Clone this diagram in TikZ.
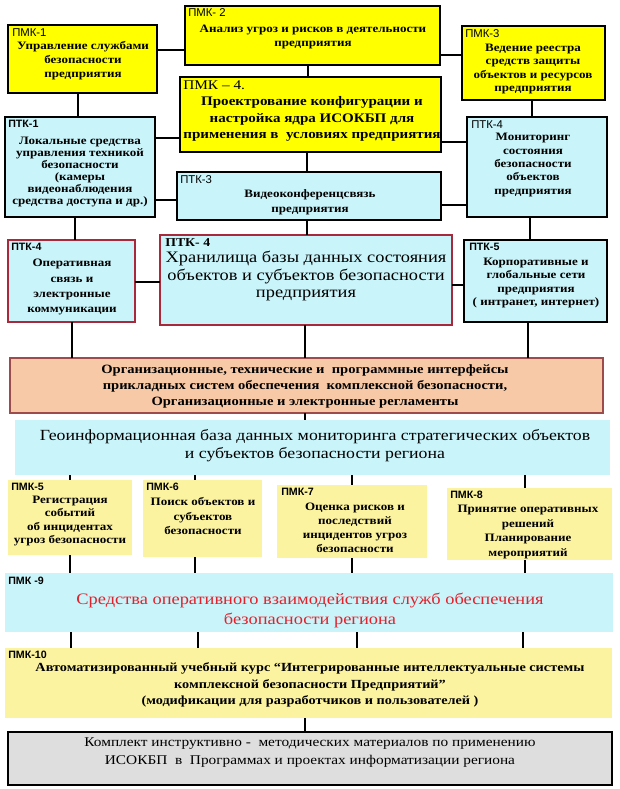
\documentclass[tikz,border=0pt]{standalone}
\usepackage{fontspec}
\setmainfont{Liberation Serif}
\setsansfont{Liberation Sans}
\newfontfamily\sr[FakeStretch=1.15]{Liberation Serif}
\usetikzlibrary{fit,calc}
\definecolor{yel}{HTML}{FFFF00}
\definecolor{cyn}{HTML}{C8F4FA}
\definecolor{pyel}{HTML}{FCF3A0}
\definecolor{org}{HTML}{F8C9A6}
\definecolor{orgb}{HTML}{9E4B4B}
\definecolor{redb}{HTML}{A8283C}
\definecolor{redt}{HTML}{E4202A}
\definecolor{gry}{HTML}{DEDEDE}
\begin{document}
\begin{tikzpicture}[x=0.75pt,y=-0.75pt,
  bx/.style={inner sep=0pt, outer sep=0pt},
  kb/.style={draw=black, line width=1.5pt},
  rb/.style={draw=redb, line width=1.3pt},
  lbl/.style={anchor=north west, inner sep=0pt, font=\sffamily\fontsize{8.5}{9}\selectfont},
  lbb/.style={lbl, font=\sffamily\bfseries\fontsize{8}{9}\selectfont},
  tx/.style={align=center, inner sep=0pt, font=\sr\bfseries\fontsize{8.5}{#1}\selectfont},
  tx/.default=10,
  ln/.style={line width=0.8pt, black}]
\useasboundingbox (0,0) rectangle (620,789);
\fill[white] (0,0) rectangle (620,789);
% boxes
\node[bx, kb, fill=yel, fit={(8,25)(157,93)}] (p1) {};
\node[bx, kb, fill=yel, fit={(185,6)(440,65)}] (p2) {};
\node[bx, kb, fill=yel, fit={(462,26)(605,100)}] (p3) {};
\node[bx, kb, fill=yel, fit={(180,77)(441,152)}] (p4) {};
\node[bx, kb, fill=cyn, fit={(5,117)(155,217)}] (t1) {};
\node[bx, kb, fill=cyn, fit={(177,172)(441,220)}] (t3) {};
\node[bx, kb, fill=cyn, fit={(467,117)(607,217)}] (t4r) {};
\node[bx, rb, fill=cyn, fit={(8,240)(135,322)}] (t4l) {};
\node[bx, rb, fill=cyn, fit={(160,235)(452,325)}] (th) {};
\node[bx, draw=black, line width=2pt, fill=cyn, fit={(464,240)(607,322)}] (t5) {};
\node[bx, draw=orgb, line width=1.2pt, fill=org, fit={(10,358)(603,413)}] (og) {};
\node[bx, fill=cyn, fit={(15,420)(610,475)}] (geo) {};
\node[bx, fill=pyel, fit={(8,480)(132,555)}] (m5) {};
\node[bx, fill=pyel, fit={(143,480)(262,557)}] (m6) {};
\node[bx, fill=pyel, fit={(277,485)(427,558)}] (m7) {};
\node[bx, fill=pyel, fit={(447,488)(612,560)}] (m8) {};
\node[bx, fill=cyn, fit={(5,573)(613,632)}] (m9) {};
\node[bx, fill=pyel, fit={(5,648)(612,718)}] (m10) {};
\node[bx, draw=black, line width=1.8pt, fill=gry, fit={(8,732)(612,785)}] (bot) {};
% connectors
\draw[ln] (p1.east |- 0,50) -- (p2.west |- 0,50);
\draw[ln] (p2.east |- 0,55) -- (p3.west |- 0,55);
\draw[ln] (p2.south -| 308,0) -- (p4.north -| 308,0);
\draw[ln] (p1.south -| 78,0) -- (t1.north -| 78,0);
\draw[ln] (p3.south -| 532,0) -- (t4r.north -| 532,0);
\draw[ln] (t1.east |- 0,138) -- (p4.west |- 0,138);
\draw[ln] (p4.east |- 0,142) -- (t4r.west |- 0,142);
\draw[ln] (p4.south -| 307,0) -- (t3.north -| 307,0);
\draw[ln] (t1.east |- 0,200) -- (t3.west |- 0,200);
\draw[ln] (t3.east |- 0,205) -- (t4r.west |- 0,205);
\draw[ln] (t3.south -| 307,0) -- (th.north -| 307,0);
\draw[ln] (t1.south -| 75,0) -- (t4l.north -| 75,0);
\draw[ln] (t4r.south -| 530,0) -- (t5.north -| 530,0);
\draw[ln] (t4l.east |- 0,282) -- (th.west |- 0,282);
\draw[ln] (th.east |- 0,285) -- (t5.west |- 0,285);
\draw[ln] (t4l.south -| 72,0) -- (og.north -| 72,0);
\draw[ln] (th.south -| 305,0) -- (og.north -| 305,0);
\draw[ln] (t5.south -| 528,0) -- (og.north -| 528,0);
\draw[ln] (og.south -| 305,0) -- (geo.north -| 305,0);
\foreach \n/\x in {m5/70, m6/195, m7/352, m8/525}{
  \draw[ln] (geo.south -| \x,0) -- (\n.north -| \x,0);
  \draw[ln] (\n.south -| \x,0) -- (m9.north -| \x,0);
}
\foreach \x in {71,198,357,523}{
  \draw[ln] (m9.south -| \x,0) -- (m10.north -| \x,0);
}
\draw[ln] (m10.south -| 305,0) -- (bot.north -| 305,0);
% labels
\node[lbl] (p1l) at (12,28) {ПМК-1};
\node[lbl] (p2l) at (188,8) {ПМК- 2};
\node[lbl] (p3l) at (465,29) {ПМК-3};
\node[lbl, font=\sr\fontsize{10}{11}\selectfont] (p4l) at (183,80) {ПМК – 4.};
\node[lbb] (t1l) at (8,120) {ПТК-1};
\node[lbl] (t3l) at (180,175) {ПТК-3};
\node[lbl] (t4rl) at (471,120) {ПТК-4};
\node[lbb] (t4ll) at (11,243) {ПТК-4};
\node[lbl, font=\sr\bfseries\fontsize{9}{10}\selectfont] (thl) at (165,238) {ПТК- 4};
\node[lbb] (t5l) at (469,243) {ПТК-5};
\node[lbb] (m5l) at (11,483) {ПМК-5};
\node[lbb] (m6l) at (146,483) {ПМК-6};
\node[lbb] (m7l) at (281,488) {ПМК-7};
\node[lbb] (m8l) at (450,491) {ПМК-8};
\node[lbb] (m9l) at (8,577) {ПМК -9};
\node[lbb] (m10l) at (8,651) {ПМК-10};
% texts
\node[tx=10.5] (p1t) at (83,61) {Управление службами\\безопасности\\предприятия};
\node[tx=11] (p2t) at (313,37) {Анализ угроз и рисков в деятельности\\предприятия};
\node[tx=9.8] (p3t) at (533,69) {Ведение реестра\\средств защиты\\объектов и ресурсов\\предприятия};
\node[align=center, inner sep=0pt, font=\sr\bfseries\fontsize{9.8}{12.4}\selectfont] (p4t) at (312,119) {Проектрование конфигурации и\\настройка ядра ИСОКБП для\\применения в~ условиях предприятия};
\node[tx=9] (t1t) at (80,172) {Локальные средства\\управления техникой\\безопасности\\(камеры\\видеонаблюдения\\средства доступа и др.)};
\node[tx=11] (t3t) at (310,202) {Видеоконференцсвязь\\предприятия};
\node[tx=10] (t4rt) at (533,165) {Мониторинг\\состояния\\безопасности\\объектов\\предприятия};
\node[tx=11.3] (t4lt) at (72,287) {Оперативная\\связь и\\электронные\\коммуникации};
\node[align=center, inner sep=0pt, font=\sr\fontsize{12}{13}\selectfont] (tht) at (306,276) {Хранилища базы данных состояния\\объектов и субъектов безопасности\\предприятия};
\node[tx=10] (t5t) at (536,283) {Корпоративные и\\глобальные сети\\предприятия\\( интранет, интернет)};
\node[align=center, inner sep=0pt, font=\sr\bfseries\fontsize{9.5}{12}\selectfont] (ogt) at (305,386) {Организационные, технические и~ программные интерфейсы\\прикладных систем обеспечения~ комплексной безопасности,\\Организационные и электронные регламенты};
\node[align=center, inner sep=0pt, font=\sr\fontsize{11.6}{13.5}\selectfont] (geot) at (315,446) {Геоинформационная база данных мониторинга стратегических объектов\\и субъектов безопасности региона};
\node[tx=10] (m5t) at (70,521) {Регистрация\\событий\\об инцидентах\\угроз безопасности};
\node[tx=11] (m6t) at (203,516) {Поиск объектов и\\субъектов\\безопасности};
\node[tx=10.5] (m7t) at (355,528) {Оценка рисков и\\последствий\\инцидентов угроз\\безопасности};
\node[tx=11] (m8t) at (528,532) {Принятие оперативных\\решений\\Планирование\\мероприятий};
\node[align=center, inner sep=0pt, text=redt, font=\sr\fontsize{12}{15}\selectfont] (m9t) at (310,610) {Средства оперативного взаимодействия служб обеспечения\\безопасности региона};
\node[align=center, inner sep=0pt, font=\sr\bfseries\fontsize{9.3}{12.6}\selectfont] (m10t) at (310,685) {Автоматизированный учебный курс “Интегрированные интеллектуальные системы\\комплексной безопасности Предприятий”\\(модификации для разработчиков и пользователей )};
\node[align=center, inner sep=0pt, font=\sr\fontsize{10}{13.5}\selectfont] (bott) at (310,753) {Комплект инструктивно -~ методических материалов по применению\\ИСОКБП~ в~ Программах и проектах информатизации региона};
\end{tikzpicture}
\end{document}
